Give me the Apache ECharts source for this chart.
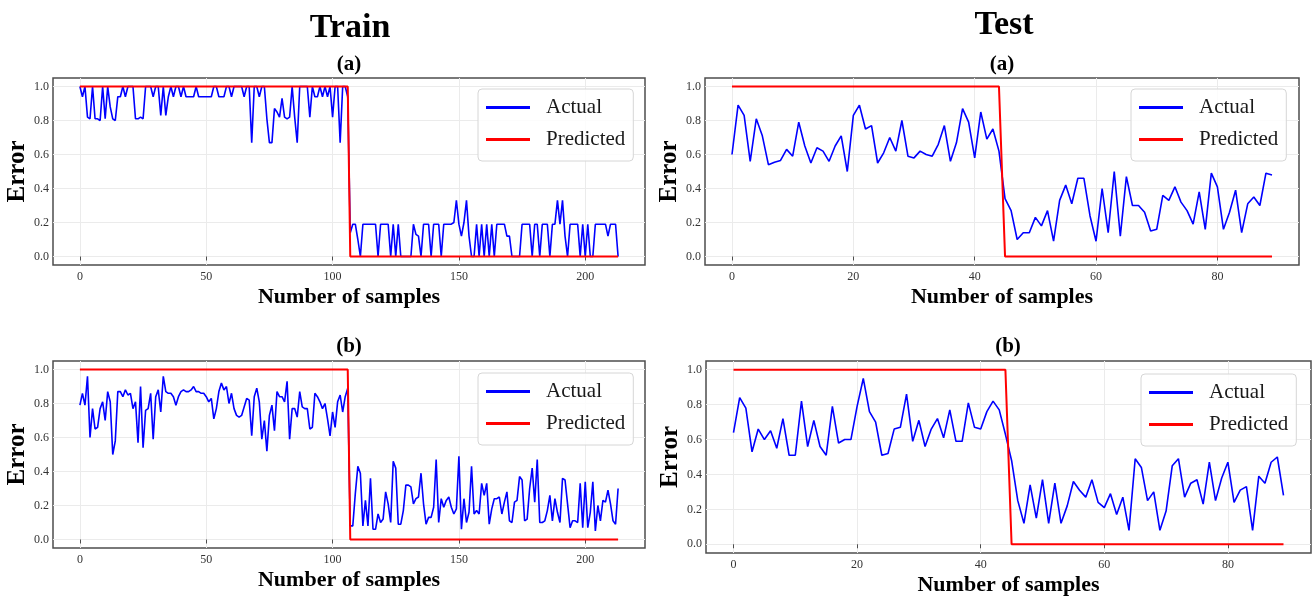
<!DOCTYPE html>
<html>
<head>
<meta charset="utf-8">
<style>
html, body { margin: 0; padding: 0; background: #fff; }
#main { width: 1314px; height: 600px; }
</style>
<script src="https://cdn.jsdelivr.net/npm/echarts@6.0.0/dist/echarts.min.js"></script>
</head>
<body>
<div id="main"></div>
<script>
// ---- data ----
var trainActualA = [
  1.0,0.94,1.0,0.82,0.81,1.0,0.81,0.81,0.80,1.0,
  0.81,1.0,0.88,0.81,0.80,0.94,0.94,1.0,0.94,1.0,
  1.0,1.0,0.81,0.81,0.82,0.81,1.0,1.0,1.0,0.94,
  1.0,1.0,0.83,1.0,0.83,0.94,1.0,0.94,1.0,1.0,
  0.94,1.0,0.94,0.94,0.94,0.94,1.0,0.94,0.94,0.94,
  0.94,0.94,0.94,1.0,1.0,0.94,0.94,0.94,1.0,1.0,
  0.94,1.0,1.0,1.0,1.0,0.94,1.0,1.0,0.67,1.0,
  1.0,0.94,1.0,1.0,0.81,0.67,0.67,0.87,0.85,0.82,
  0.93,0.82,0.81,0.82,1.0,0.82,0.67,1.0,1.0,1.0,
  1.0,0.82,1.0,0.94,0.94,1.0,0.94,1.0,0.94,1.0,
  0.82,1.0,1.0,0.67,1.0,1.0,0.94,
  0.14,0.19,0.19,0.10,0.0,0.19,0.19,0.19,0.19,0.19,
  0.19,0.0,0.19,0.19,0.19,0.19,0.0,0.19,0.0,0.19,
  0.0,0.0,0.0,0.0,0.0,0.19,0.13,0.12,0.0,0.19,
  0.19,0.19,0.0,0.19,0.19,0.19,0.0,0.19,0.19,0.19,
  0.19,0.20,0.33,0.19,0.12,0.20,0.33,0.12,0.0,0.0,
  0.19,0.0,0.19,0.0,0.19,0.0,0.19,0.0,0.19,0.19,
  0.19,0.19,0.12,0.12,0.0,0.0,0.0,0.0,0.19,0.19,
  0.19,0.19,0.0,0.19,0.19,0.0,0.19,0.19,0.19,0.0,
  0.19,0.19,0.33,0.19,0.33,0.12,0.0,0.19,0.19,0.19,
  0.19,0.0,0.19,0.0,0.19,0.0,0.0,0.19,0.19,0.19,
  0.19,0.19,0.12,0.19,0.19,0.19,0.0
];

var trainActualB = [
  0.79,0.86,0.79,0.96,0.60,0.77,0.65,0.66,0.77,0.81,
  0.70,0.87,0.81,0.50,0.58,0.87,0.87,0.84,0.88,0.85,
  0.86,0.77,0.81,0.57,0.90,0.54,0.76,0.77,0.86,0.59,
  0.84,0.88,0.75,0.96,0.87,0.86,0.86,0.84,0.79,0.84,
  0.87,0.88,0.87,0.87,0.88,0.90,0.87,0.87,0.86,0.86,
  0.84,0.81,0.83,0.71,0.77,0.87,0.92,0.88,0.90,0.80,
  0.86,0.77,0.73,0.72,0.73,0.78,0.83,0.82,0.61,0.84,
  0.89,0.81,0.59,0.70,0.52,0.73,0.79,0.64,0.87,0.84,
  0.84,0.81,0.93,0.59,0.77,0.77,0.72,0.87,0.78,0.77,
  0.77,0.65,0.66,0.86,0.84,0.81,0.77,0.80,0.71,0.61,
  0.75,0.66,0.81,0.85,0.75,0.84,0.89,
  0.08,0.08,0.27,0.43,0.39,0.08,0.23,0.08,0.36,0.06,
  0.06,0.15,0.10,0.12,0.28,0.21,0.10,0.46,0.42,0.09,
  0.09,0.17,0.32,0.32,0.31,0.21,0.24,0.25,0.39,0.21,
  0.09,0.13,0.13,0.19,0.47,0.10,0.24,0.19,0.23,0.25,
  0.19,0.15,0.18,0.49,0.06,0.24,0.10,0.16,0.43,0.15,
  0.17,0.15,0.33,0.26,0.33,0.09,0.18,0.24,0.24,0.25,
  0.15,0.22,0.28,0.11,0.10,0.22,0.23,0.37,0.35,0.11,
  0.12,0.30,0.42,0.22,0.47,0.10,0.10,0.11,0.17,0.26,
  0.11,0.24,0.16,0.10,0.36,0.35,0.21,0.07,0.11,0.11,
  0.10,0.33,0.07,0.34,0.07,0.16,0.34,0.05,0.20,0.11,
  0.23,0.22,0.29,0.21,0.11,0.09,0.30
];

var trainPredicted = [
  1,1,1,1,1,1,1,1,1,1, 1,1,1,1,1,1,1,1,1,1, 1,1,1,1,1,1,1,1,1,1,
  1,1,1,1,1,1,1,1,1,1, 1,1,1,1,1,1,1,1,1,1, 1,1,1,1,1,1,1,1,1,1,
  1,1,1,1,1,1,1,1,1,1, 1,1,1,1,1,1,1,1,1,1, 1,1,1,1,1,1,1,1,1,1,
  1,1,1,1,1,1,1,1,1,1, 1,1,1,1,1,1,1,
  0,0,0,0,0,0,0,0,0,0, 0,0,0,0,0,0,0,0,0,0, 0,0,0,0,0,0,0,0,0,0,
  0,0,0,0,0,0,0,0,0,0, 0,0,0,0,0,0,0,0,0,0, 0,0,0,0,0,0,0,0,0,0,
  0,0,0,0,0,0,0,0,0,0, 0,0,0,0,0,0,0,0,0,0, 0,0,0,0,0,0,0,0,0,0,
  0,0,0,0,0,0,0,0,0,0, 0,0,0,0,0,0,0
];

var testActualA = [
  0.60,0.89,0.83,0.56,0.81,0.71,0.54,0.555,0.565,0.63,
  0.59,0.79,0.65,0.55,0.64,0.62,0.56,0.65,0.71,0.50,
  0.83,0.89,0.75,0.77,0.55,0.61,0.70,0.62,0.80,0.59,
  0.58,0.62,0.60,0.59,0.66,0.77,0.56,0.67,0.87,0.79,
  0.58,0.85,0.69,0.75,0.62,0.34,0.27,0.10,0.14,0.14,
  0.23,0.18,0.27,0.09,0.33,0.42,0.31,0.46,0.46,0.24,
  0.09,0.40,0.14,0.50,0.12,0.47,0.30,0.30,0.26,0.15,
  0.16,0.36,0.33,0.41,0.32,0.27,0.19,0.38,0.16,0.49,
  0.41,0.16,0.26,0.39,0.14,0.31,0.35,0.30,0.49,0.48
];

var testActualB = [
  0.64,0.84,0.78,0.53,0.66,0.60,0.65,0.55,0.72,0.51,
  0.51,0.82,0.56,0.71,0.56,0.51,0.79,0.58,0.60,0.60,
  0.79,0.95,0.76,0.70,0.51,0.52,0.66,0.67,0.86,0.59,
  0.71,0.56,0.66,0.72,0.61,0.77,0.59,0.59,0.81,0.67,
  0.66,0.76,0.82,0.77,0.63,0.48,0.25,0.12,0.34,0.15,
  0.37,0.12,0.35,0.12,0.22,0.36,0.31,0.27,0.37,0.24,
  0.21,0.29,0.17,0.27,0.08,0.49,0.44,0.25,0.30,0.08,
  0.19,0.45,0.49,0.27,0.35,0.37,0.23,0.47,0.25,0.38,
  0.47,0.24,0.31,0.33,0.08,0.39,0.35,0.47,0.50,0.28
];

var testPredicted = [
  1,1,1,1,1,1,1,1,1,1, 1,1,1,1,1,1,1,1,1,1, 1,1,1,1,1,1,1,1,1,1,
  1,1,1,1,1,1,1,1,1,1, 1,1,1,1,1,
  0,0,0,0,0,0,0,0,0,0, 0,0,0,0,0,0,0,0,0,0, 0,0,0,0,0,0,0,0,0,0,
  0,0,0,0,0,0,0,0,0,0, 0,0,0,0,0
];

var trainTicks = [0, 50, 100, 150, 200];
var testTicks = [0, 20, 40, 60, 80];
var yTicks = [0, 0.2, 0.4, 0.6, 0.8, 1.0];
var seriesNames = ['Actual', 'Predicted'];

// ---- layout ----
var serif = '"Liberation Serif", "DejaVu Serif", serif';
var panels = [
  { actual: trainActualA, predicted: trainPredicted, ticks: trainTicks, xMin: -10.65, xMax: 223.65,
    left: 53, top: 78, width: 592, height: 187, legendLeft: 478, legendTop: 89 },
  { actual: testActualA, predicted: testPredicted, ticks: testTicks, xMin: -4.45, xMax: 93.45,
    left: 705, top: 78, width: 594, height: 187, legendLeft: 1131, legendTop: 89 },
  { actual: trainActualB, predicted: trainPredicted, ticks: trainTicks, xMin: -10.65, xMax: 223.65,
    left: 53, top: 361, width: 592, height: 187, legendLeft: 478, legendTop: 373 },
  { actual: testActualB, predicted: testPredicted, ticks: testTicks, xMin: -4.45, xMax: 93.45,
    left: 706, top: 361, width: 605, height: 192, legendLeft: 1141, legendTop: 374 }
];

function toPoints(arr) {
  return arr.map(function (v, k) { return [k, v]; });
}

var option = {
  animation: false,
  backgroundColor: '#fff',
  grid: [], xAxis: [], yAxis: [], series: [], legend: [],
  graphic: [
    { type: 'text', x: 350, y: 28, style: { text: 'Train', font: 'bold 34px ' + serif, fill: '#000', align: 'center', verticalAlign: 'middle' } },
    { type: 'text', x: 1004, y: 25, style: { text: 'Test', font: 'bold 34px ' + serif, fill: '#000', align: 'center', verticalAlign: 'middle' } },
    { type: 'text', x: 349, y: 65, style: { text: '(a)', font: 'bold 21px ' + serif, fill: '#000', align: 'center', verticalAlign: 'middle' } },
    { type: 'text', x: 1002, y: 65, style: { text: '(a)', font: 'bold 21px ' + serif, fill: '#000', align: 'center', verticalAlign: 'middle' } },
    { type: 'text', x: 349, y: 347, style: { text: '(b)', font: 'bold 21px ' + serif, fill: '#000', align: 'center', verticalAlign: 'middle' } },
    { type: 'text', x: 1008, y: 347, style: { text: '(b)', font: 'bold 21px ' + serif, fill: '#000', align: 'center', verticalAlign: 'middle' } }
  ]
};

panels.forEach(function (p, i) {
  option.grid.push({
    left: p.left, top: p.top, width: p.width, height: p.height,
    show: true, borderColor: '#4d4d4d', borderWidth: 1.5, backgroundColor: '#fff',
    containLabel: false, outerBoundsMode: 'none'
  });
  option.xAxis.push({
    type: 'value', gridIndex: i, min: p.xMin, max: p.xMax,
    name: 'Number of samples', nameLocation: 'middle', nameGap: 21,
    nameTextStyle: { fontFamily: serif, fontWeight: 'bold', fontSize: 22, color: '#000' },
    axisLine: { show: false },
    axisTick: { show: true, length: 4, customValues: p.ticks, lineStyle: { color: '#4d4d4d' } },
    axisLabel: { customValues: p.ticks, fontFamily: serif, fontSize: 12, color: '#333', margin: 6 },
    splitLine: { show: true, lineStyle: { color: '#ebebeb', width: 1 } }
  });
  option.yAxis.push({
    type: 'value', gridIndex: i, min: -0.05, max: 1.05,
    name: 'Error', nameLocation: 'middle', nameGap: 23,
    nameTextStyle: { fontFamily: serif, fontWeight: 'bold', fontSize: 25, color: '#000' },
    axisLine: { show: false },
    axisTick: { show: false, customValues: yTicks },
    axisLabel: {
      customValues: yTicks, fontFamily: serif, fontSize: 12, color: '#333', margin: 4,
      formatter: function (v) { return v.toFixed(1); }
    },
    splitLine: { show: true, lineStyle: { color: '#ebebeb', width: 1 } }
  });
  option.series.push({
    name: 'Actual', type: 'line', xAxisIndex: i, yAxisIndex: i,
    data: toPoints(p.actual), symbol: 'none', showSymbol: false,
    lineStyle: { color: '#0000ff', width: 1.6 }, itemStyle: { color: '#0000ff' }
  });
  option.series.push({
    name: 'Predicted', type: 'line', xAxisIndex: i, yAxisIndex: i,
    data: toPoints(p.predicted), symbol: 'none', showSymbol: false,
    lineStyle: { color: '#ff0000', width: 2 }, itemStyle: { color: '#ff0000' }
  });
  option.legend.push({
    data: seriesNames, orient: 'vertical', left: p.legendLeft, top: p.legendTop,
    icon: 'rect', padding: [8, 8, 11, 8], itemGap: 11, itemWidth: 44, itemHeight: 3,
    backgroundColor: 'rgba(255,255,255,0.85)', borderColor: '#d6d6d6', borderWidth: 1, borderRadius: 4,
    textStyle: { fontFamily: serif, fontSize: 21, color: '#1a1a1a', padding: [0, 0, 0, 11], lineHeight: 21 },
    selectedMode: false
  });
});

var chart = echarts.init(document.getElementById('main'));
chart.setOption(option);
</script>
</body>
</html>
